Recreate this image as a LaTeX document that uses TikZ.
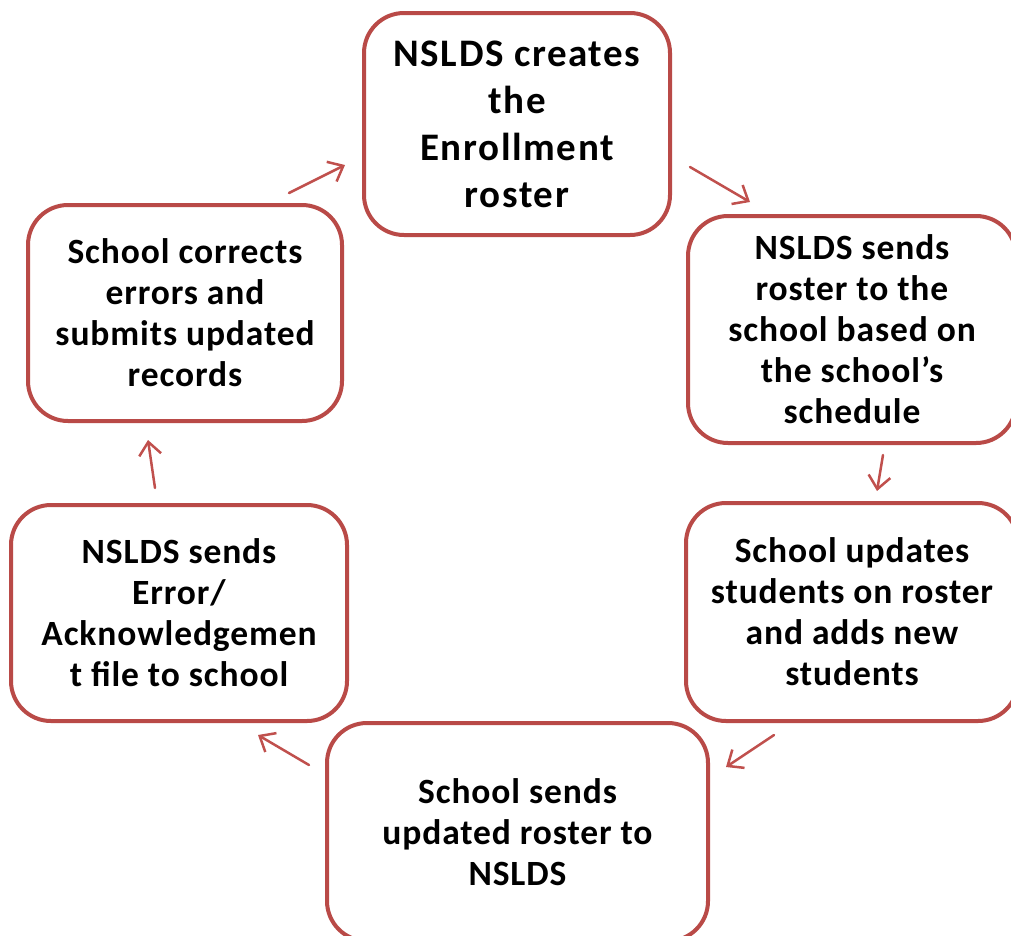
\documentclass[tikz,border=0pt]{standalone}
\usepackage{fontspec}
\setmainfont{Carlito}
\newfontfamily\boxfont[LetterSpace=2.5]{Carlito}
\newfontfamily\topfont[LetterSpace=4.2]{Carlito}
\usetikzlibrary{arrows.meta}
\definecolor{boxred}{RGB}{185,74,71}
\definecolor{arrred}{RGB}{192,80,77}
\begin{document}
\begin{tikzpicture}[x=1pt,y=-1pt,
  stepbox/.style={draw=boxred, line width=4pt, rounded corners=40pt, fill=white,
    align=center, inner sep=0pt, font=\boxfont\bfseries\fontsize{35.5}{41}\selectfont},
  cyc/.style={draw=arrred, line width=2.5pt, line cap=round,
    -{Straight Barb[length=13pt,width=22pt,line width=2.5pt]}}]
\useasboundingbox (0,0) rectangle (1011,935);
\clip (0,0) rectangle (1011,935);
\node[stepbox, minimum width=306pt, minimum height=222pt, font=\topfont\bfseries\fontsize{39}{47}\selectfont] (n1) at (517,124) {NSLDS creates\\the\\Enrollment\\roster};
\node[stepbox, minimum width=328pt, minimum height=227pt] (n2) at (852,329.5) {NSLDS sends\\roster to the\\school based on\\the school’s\\schedule};
\node[stepbox, minimum width=332pt, minimum height=218pt] (n3) at (852,612) {School updates\\students on roster\\and adds new\\students};
\node[stepbox, minimum width=381pt, minimum height=218pt] (n4) at (517.5,832) {School sends\\updated roster to\\NSLDS};
\node[stepbox, minimum width=336pt, minimum height=216pt] (n5) at (179,613) {NSLDS sends\\Error/\\Acknowledgemen\\t file to school};
\node[stepbox, minimum width=314pt, minimum height=216pt] (n6) at (185,313) {School corrects\\errors and\\submits updated\\records};
\coordinate (a1s) at (289,193); \coordinate (a1e) at (345,165);
\coordinate (a2s) at (690,167); \coordinate (a2e) at (750,202);
\coordinate (a3s) at (883,455); \coordinate (a3e) at (877,491);
\coordinate (a4s) at (774,735); \coordinate (a4e) at (726,767);
\coordinate (a5s) at (309,765); \coordinate (a5e) at (258,735);
\coordinate (a6s) at (155,488); \coordinate (a6e) at (148,440);
\draw[cyc] (a1s) -- (a1e);
\draw[cyc] (a2s) -- (a2e);
\draw[cyc] (a3s) -- (a3e);
\draw[cyc] (a4s) -- (a4e);
\draw[cyc] (a5s) -- (a5e);
\draw[cyc] (a6s) -- (a6e);
\end{tikzpicture}
\end{document}
